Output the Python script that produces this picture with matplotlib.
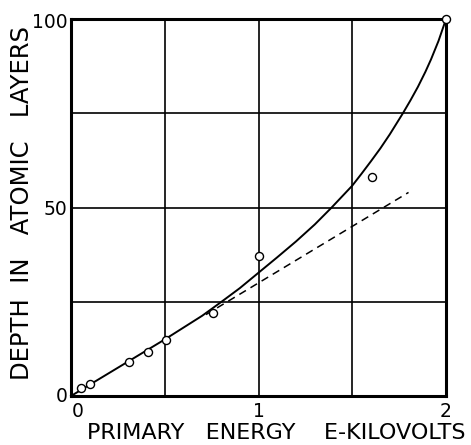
import matplotlib.pyplot as plt
import numpy as np

# measured points (primary energy kV, depth in atomic layers)
pts_e = [0.053, 0.10, 0.31, 0.41, 0.505, 0.755, 1.0, 1.605, 2.0]
pts_d = [2.2, 3.3, 9.0, 11.7, 14.8, 22.1, 37.1, 58.1, 100.0]

# solid curve
curve_e = [0.0, 0.5, 0.7, 0.8, 0.9, 1.0, 1.1, 1.2, 1.3, 1.39, 1.5, 1.55, 1.6, 1.65, 1.7, 1.74, 1.77, 1.81, 1.85, 1.89, 1.92, 1.96, 2.0]
curve_d = [0.0, 15.0, 21.3, 24.9, 28.6, 32.7, 36.8, 41.0, 45.5, 50.0, 55.8, 59.0, 62.3, 65.7, 69.4, 72.6, 75.0, 78.4, 82.0, 86.0, 89.3, 94.2, 100.0]

# dashed linear extrapolation
dash_e = [0.72, 1.8]
dash_d = [21.6, 54.0]

plt.rcParams['font.family'] = 'DejaVu Sans'
fig = plt.figure(figsize=(4.71, 4.45), dpi=100)
ax = fig.add_axes([0.1507, 0.1101, 0.7963, 0.8472])

ax.plot(curve_e, curve_d, color='black', lw=1.4, clip_on=False)
ax.plot(dash_e, dash_d, color='black', lw=1.1, ls=(0, (5, 3.5)))
ax.plot(pts_e, pts_d, 'o', ms=5.8, mfc='white', mec='black', mew=1.0, clip_on=False, zorder=5)

ax.set_xlim(0, 2)
ax.set_ylim(0, 100)
for v in [0.5, 1.0, 1.5]:
    ax.axvline(v, color='black', lw=1.2, zorder=0)
for v in [25, 50, 75]:
    ax.axhline(v, color='black', lw=1.2, zorder=0)
for s in ax.spines.values():
    s.set_linewidth(2.2)

ax.set_xticks([])
ax.set_yticks([])
fs = 13.5
ax.text(-0.01, 0.0, '0', transform=ax.transAxes, ha='right', va='center', fontsize=fs)
ax.text(-0.01, 0.495, '50', transform=ax.transAxes, ha='right', va='center', fontsize=fs)
ax.text(-0.01, 0.99, '100', transform=ax.transAxes, ha='right', va='center', fontsize=fs)
ax.text(0.018, -0.015, '0', transform=ax.transAxes, ha='center', va='top', fontsize=fs)
ax.text(0.5, -0.015, '1', transform=ax.transAxes, ha='center', va='top', fontsize=fs)
ax.text(1.0, -0.015, '2', transform=ax.transAxes, ha='center', va='top', fontsize=fs)

ax.text(0.548, -0.097, 'PRIMARY   ENERGY    E-KILOVOLTS', transform=ax.transAxes, ha='center', va='center', fontsize=16)
ax.text(-0.131, 0.511, 'DEPTH  IN   ATOMIC   LAYERS', transform=ax.transAxes, ha='center', va='center', rotation=90, fontsize=17.5)

fig.savefig('out.png', dpi=100)
